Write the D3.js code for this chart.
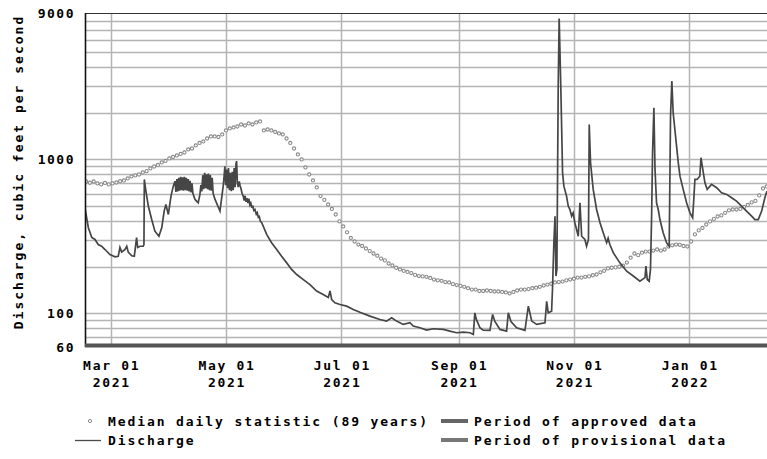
<!DOCTYPE html>
<html>
<head>
<meta charset="utf-8">
<script src="https://cdn.jsdelivr.net/npm/d3@7"></script>
<style>
  html, body { margin: 0; padding: 0; background: #fff; }
  svg { display: block; }
  text { font-family: "DejaVu Sans Mono", "Liberation Mono", monospace; font-weight: bold; fill: #000; }
</style>
</head>
<body>
<svg id="chart" width="767" height="459"></svg>
<script>
// ---------------- data ----------------
const refDate = "2021-03-01";            // day 0 for the discharge time offsets
const xDomain = ["2021-02-15T10:00", "2022-02-11T03:00"];
const yDomain = [60, 9000];

// Discharge (instantaneous), time as days after 2021-03-01, value in cfs
const dischargeDay = [-13.6, -11.8, -10.0, -8.3, -6.6, -4.8, -3.0, -0.4, 2.3, 4.0,
  4.9, 5.8, 7.6, 8.5, 9.3, 11.1, 12.5, 13.7, 14.3, 15.5,
  17.2, 17.6, 17.8, 18.5, 19.9, 21.7, 23.4, 25.5, 27.0, 28.3,
  29.2, 30.5, 31.9, 33.1,
  34.0, 34.5, 35.0, 35.5, 36.0, 36.5, 37.0, 37.5, 38.0, 38.5,
  39.0, 39.5, 40.0, 40.5, 41.0, 41.5, 42.0, 42.5, 43.0, 43.5,
  44.6, 46.3, 47.2, 47.7, 48.2, 48.7, 49.2, 49.7, 50.2, 50.7,
  51.2, 51.7, 52.2, 52.7, 53.2, 53.7, 54.2, 55.2, 56.9, 57.8,
  58.6, 59.5, 60.0, 60.4, 60.8, 61.3, 61.8, 62.3, 62.8, 63.3,
  63.8, 64.3, 64.8, 65.3, 65.8, 66.3, 66.6, 67.0, 67.5, 68.0,
  68.4, 69.0, 69.5, 70.1, 70.6, 71.1, 71.6, 72.1, 72.6, 73.1,
  73.6, 74.1, 74.6, 75.2, 75.7, 76.3, 77.0, 77.5, 78.1, 78.6,
  79.2, 79.9,
  82.5, 85.1, 87.8,
  90.4, 93.1, 95.7, 98.4, 101.9, 105.4, 108.9, 112.4, 115.1, 116.0,
  116.9, 118.6, 121.3, 124.8, 128.3, 131.8, 137.1, 142.4, 145.9, 148.6,
  151.2, 154.7, 158.3, 160.0, 163.6, 167.1, 170.6, 175.9, 179.4, 183.0,
  186.5, 190.0, 191.8, 192.6, 193.4, 195.3, 197.0, 200.6, 202.0, 203.2,
  205.9, 209.4, 210.3, 211.7, 214.7, 219.1, 220.9, 222.7, 225.3, 229.7,
  230.6, 231.4, 233.2, 233.7, 234.4, 235.0, 235.5, 236.0, 236.7, 237.2,
  237.6, 238.1, 238.5, 239.0, 239.7, 241.1, 242.0, 242.9, 243.8, 244.6,
  245.5, 247.3, 248.2, 249.1, 250.8, 251.7, 252.7, 253.1, 253.8, 255.2,
  257.0, 258.8, 260.5, 262.3, 263.1, 264.0, 265.8, 269.3, 272.9, 276.4,
  279.9, 282.6, 283.1, 283.8, 284.8, 285.5, 286.1, 286.6, 287.3, 287.9,
  288.7, 289.6, 290.5, 292.2, 294.0, 295.4, 296.1, 296.8, 297.5, 298.4,
  299.3, 300.2, 301.1, 302.8, 304.6, 306.4, 307.8, 308.5, 309.0, 310.1,
  311.6, 312.2, 313.0, 314.3, 315.5, 317.8, 320.5, 323.1, 325.8, 328.4,
  331.0, 333.7, 336.3, 339.0, 340.7, 342.5, 344.3, 346.0, 347.1];
const dischargeCfs = [484, 359, 310, 301, 279, 272, 259, 240, 232, 234,
  267, 249, 259, 272, 249, 236, 234, 310, 267, 272,
  272, 279, 741, 638, 497, 406, 341, 316, 359, 461,
  510, 438, 577, 670,
  722, 615, 745, 620, 760, 625, 770, 630, 765, 625,
  770, 630, 760, 625, 745, 620, 725, 610, 700, 600,
  549, 522, 592, 680, 620, 790, 640, 820, 650, 800,
  640, 810, 630, 790, 625, 760, 600, 549, 490, 461,
  549, 670, 780, 904, 680, 860, 650, 880, 630, 820,
  620, 830, 630, 880, 660, 940, 975, 700, 660, 720,
  680, 640, 600, 577, 540, 580, 530, 560, 520, 555,
  505, 520, 490, 495, 465, 472, 440, 450, 420, 425,
  395, 387,
  325, 287, 259,
  234, 212, 192, 178, 165, 153, 139, 132, 126, 139,
  122, 116.5, 113.6, 110.7, 105.4, 101, 95.3, 90.7, 88.5, 93.1,
  88.5, 84.2, 86.3, 82.1, 80.1, 77.3, 78.9, 78.1, 76.1, 74.3,
  75, 74.3, 72.4, 100.2, 90.7, 80.1, 77.3, 77, 97.8, 88,
  78.1, 76.1, 100.2, 88, 80.1, 77, 110.7, 88.5, 84.2, 86.3,
  119, 100.2, 102.7, 146, 287, 427, 174, 192, 3000, 8300,
  5210, 2860, 1650, 819, 670, 577, 497, 472, 427, 449,
  387, 316, 522, 316, 301, 272, 301, 1690, 952, 638,
  472, 387, 333, 287, 307, 279, 247, 212, 187, 174,
  161, 170, 202, 165, 161, 192, 427, 1106, 2170, 861,
  522, 472, 406, 333, 287, 272, 1915, 3240, 2010, 1568,
  1220, 952, 778, 638, 522, 449, 417, 577, 741, 741,
  778, 1026, 887, 705, 638, 688, 654, 607, 592, 563,
  535, 497, 461, 427, 406, 406, 461, 563, 622];

// Median daily statistic (89 years): one value every second day from medianStart
const medianStart = "2021-02-16";
const medianStepDays = 2;
const medianCfs = [719, 705, 719, 698, 688, 703, 688, 698, 708, 722,
  730, 752, 775, 787, 798, 823, 839, 874, 900, 921,
  956, 978, 1015, 1038, 1062, 1086, 1110, 1162, 1179, 1234,
  1281, 1310, 1370, 1412, 1412, 1401, 1455, 1545, 1592, 1616,
  1640, 1690, 1664, 1716, 1690, 1742, 1769, 1545, 1568, 1545,
  1510, 1477, 1455, 1370, 1281, 1179, 1078, 1000, 887, 798,
  730, 657, 577, 545, 509, 476, 438, 395, 366, 335,
  308, 292, 279, 273, 263, 253, 244, 236, 226, 220,
  210, 204, 197, 192, 188, 185, 182, 177, 174, 173,
  172, 169, 165, 163, 162, 159, 158, 154, 152, 150,
  148, 145, 142, 142, 139, 139, 140, 139, 138, 138,
  137, 136, 134, 137, 140, 142, 142, 143, 145, 146,
  148, 151, 153, 155, 158, 159, 160, 163, 165, 167,
  170, 170, 172, 173, 176, 178, 184, 188, 195, 197,
  198, 200, 203, 213, 229, 244, 238, 247, 251, 251,
  255, 259, 255, 259, 271, 276, 279, 278, 273, 271,
  292, 325, 345, 358, 377, 395, 410, 425, 432, 449,
  466, 472, 472, 476, 490, 505, 525, 537, 583, 647, 667];

const xTickDates = ["2021-03-01", "2021-05-01", "2021-07-01", "2021-09-01", "2021-11-01", "2022-01-01"];
const xTickMonth = ["Mar 01", "May 01", "Jul 01", "Sep 01", "Nov 01", "Jan 01"];
const xTickYear = ["2021", "2021", "2021", "2021", "2021", "2022"];
const yTickValues = [60, 100, 1000, 9000];
const yGridValues = [70, 80, 90, 100, 200, 300, 400, 500, 600, 700, 800, 900,
  1000, 2000, 3000, 4000, 5000, 6000, 7000, 8000];
const yTitle = "Discharge, cubic feet per second";
const legendItems = ["Median daily statistic (89 years)", "Discharge",
  "Period of approved data", "Period of provisional data"];

// ---------------- drawing ----------------
(function () {
const parse = s => new Date(s);
const svg = d3.select("#chart");
const pLeft = 85, pRight = 767, pTop = 13, pBottom = 347;

const x = d3.scaleTime().domain(xDomain.map(parse)).range([pLeft, pRight]);
const y = d3.scaleLog().domain(yDomain).range([pBottom, pTop]);

const ref = parse(refDate + "T00:00");
const dayMs = 86400000;
const n = Math.min(dischargeDay.length, dischargeCfs.length);
const discharge = dischargeDay.slice(0, n).map((d, i) => ({ t: new Date(+ref + d * dayMs), v: dischargeCfs[i] }));
const mStart = parse(medianStart + "T00:00");
const median = medianCfs.map((v, i) => ({ t: d3.timeDay.offset(mStart, i * medianStepDays), v }));

svg.append("defs").append("clipPath").attr("id", "plotclip")
  .append("rect").attr("x", pLeft).attr("y", pTop).attr("width", pRight - pLeft).attr("height", pBottom - pTop);

// horizontal gridlines
svg.append("g").selectAll("line").data(yGridValues).join("line")
  .attr("x1", pLeft).attr("x2", pRight)
  .attr("y1", d => Math.round(y(d)) + 0.5).attr("y2", d => Math.round(y(d)) + 0.5)
  .attr("stroke", "#b4b4b4").attr("stroke-width", 1.5);

// vertical gridlines
svg.append("g").selectAll("line").data(xTickDates).join("line")
  .attr("x1", d => Math.round(x(parse(d + "T00:00"))) + 0.5)
  .attr("x2", d => Math.round(x(parse(d + "T00:00"))) + 0.5)
  .attr("y1", pTop).attr("y2", pBottom)
  .attr("stroke", "#b4b4b4").attr("stroke-width", 1.5);

const plot = svg.append("g").attr("clip-path", "url(#plotclip)");

// median markers
plot.append("g").selectAll("circle").data(median).join("circle")
  .attr("cx", d => x(d.t)).attr("cy", d => y(d.v)).attr("r", 1.6)
  .attr("fill", "#fff").attr("stroke", "#8a8a8a").attr("stroke-width", 1.1);

// discharge line
plot.append("path").datum(discharge)
  .attr("d", d3.line().x(d => x(d.t)).y(d => y(d.v)))
  .attr("fill", "none").attr("stroke", "#464646").attr("stroke-width", 1.7)
  .attr("stroke-linejoin", "miter");

// frame: top border, left axis, bottom data-period bar
svg.append("line").attr("x1", pLeft).attr("x2", pRight).attr("y1", pTop + 0.5).attr("y2", pTop + 0.5)
  .attr("stroke", "#333").attr("stroke-width", 1.2);
svg.append("line").attr("x1", pLeft + 0.5).attr("x2", pLeft + 0.5).attr("y1", pTop).attr("y2", pBottom)
  .attr("stroke", "#111").attr("stroke-width", 1.6);
svg.append("rect").attr("x", pLeft).attr("y", pBottom - 3.5).attr("width", pRight - pLeft).attr("height", 4)
  .attr("fill", "#555");

// y tick labels
svg.append("g").selectAll("text").data(yTickValues).join("text")
  .attr("x", 75).attr("y", d => y(d)).attr("dy", "0.36em")
  .attr("text-anchor", "end").attr("font-size", 13).attr("letter-spacing", 1.5)
  .text(d => d);

// x tick labels
const xl = svg.append("g").selectAll("g").data(xTickDates).join("g")
  .attr("transform", d => `translate(${x(parse(d + "T00:00")) + 1},0)`);
xl.append("text").attr("y", 370).attr("text-anchor", "middle")
  .attr("font-size", 13).attr("letter-spacing", 1.7).text((d, i) => xTickMonth[i]);
xl.append("text").attr("y", 387).attr("text-anchor", "middle")
  .attr("font-size", 13).attr("letter-spacing", 1.7).text((d, i) => xTickYear[i]);

// y axis title
svg.append("text").attr("transform", "translate(23,172) rotate(-90)")
  .attr("text-anchor", "middle").attr("font-size", 13).attr("letter-spacing", 2.0)
  .text(yTitle);

// legend
const lg = svg.append("g").attr("font-size", 13);
lg.append("circle").attr("cx", 90).attr("cy", 421).attr("r", 1.6)
  .attr("fill", "#fff").attr("stroke", "#8a8a8a");
lg.append("text").attr("x", 108).attr("y", 425.5).attr("letter-spacing", 1.9).attr("font-size", 13).text(legendItems[0]);
lg.append("line").attr("x1", 75).attr("x2", 101).attr("y1", 440.5).attr("y2", 440.5)
  .attr("stroke", "#4a4a4a").attr("stroke-width", 1.3);
lg.append("text").attr("x", 108).attr("y", 445).attr("letter-spacing", 1.9).attr("font-size", 13).text(legendItems[1]);
lg.append("rect").attr("x", 441).attr("y", 419).attr("width", 27).attr("height", 4).attr("fill", "#666");
lg.append("text").attr("x", 474).attr("y", 425.5).attr("letter-spacing", 1.9).attr("font-size", 13).text(legendItems[2]);
lg.append("rect").attr("x", 441).attr("y", 438).attr("width", 27).attr("height", 4).attr("fill", "#777");
lg.append("text").attr("x", 474).attr("y", 445).attr("letter-spacing", 1.9).attr("font-size", 13).text(legendItems[3]);
})();
</script>
</body>
</html>
